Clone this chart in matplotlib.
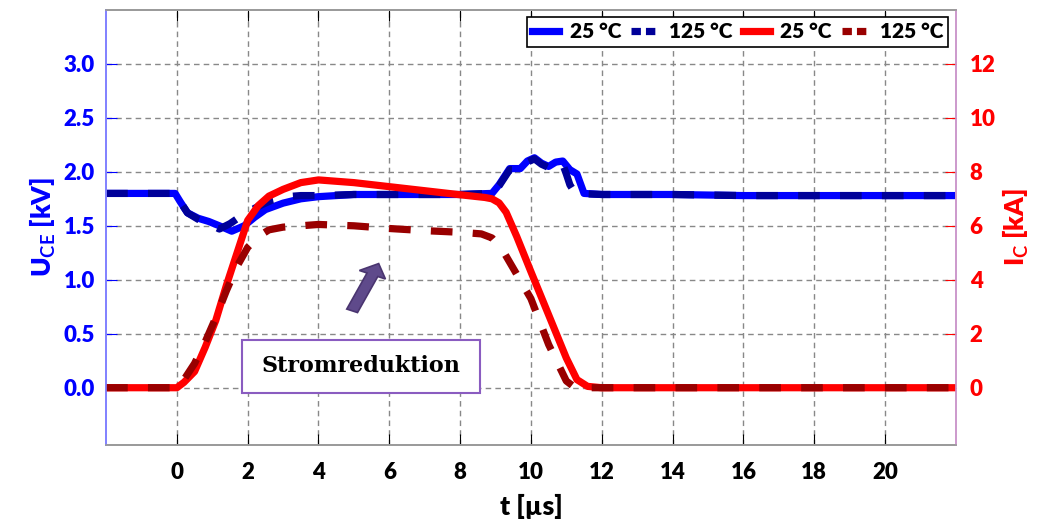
import numpy as np
import matplotlib
matplotlib.use("Agg")
import matplotlib.pyplot as plt
from matplotlib.patches import Rectangle, FancyArrow
from matplotlib.lines import Line2D

plt.rcParams['font.family'] = ['Lato', 'DejaVu Sans']
plt.rcParams['font.weight'] = 'bold'
plt.rcParams['mathtext.fontset'] = 'custom'
plt.rcParams['mathtext.rm'] = 'Lato:bold'
plt.rcParams['mathtext.it'] = 'Lato:bold'

# U_CE [kV] at 25 degC
t_u25 = [-2, -0.05, 0.1, 0.3, 0.6, 0.9, 1.2, 1.55, 1.9, 2.2, 2.5, 3.0, 3.5, 4.0, 5.0, 6.0, 7.0, 8.0,
         8.9, 9.1, 9.4, 9.7, 9.9, 10.1, 10.3, 10.5, 10.7, 10.9, 11.1, 11.3, 11.5, 12, 14, 16, 18, 20, 22]
u_25 = [1.8, 1.8, 1.72, 1.62, 1.57, 1.54, 1.5, 1.45, 1.5, 1.58, 1.65, 1.71, 1.75, 1.77, 1.79, 1.79, 1.79, 1.79,
        1.80, 1.88, 2.03, 2.03, 2.1, 2.13, 2.08, 2.05, 2.09, 2.1, 2.02, 1.98, 1.8, 1.79, 1.79, 1.78, 1.78, 1.78, 1.78]

# U_CE [kV] at 125 degC
t_u125 = [-2, -0.05, 0.1, 0.3, 0.6, 0.9, 1.2, 1.5, 1.9, 2.3, 2.7, 3.1, 3.5, 4.0, 5.0, 6.0, 7.0, 8.0,
          8.9, 9.1, 9.4, 9.7, 9.9, 10.1, 10.3, 10.5, 10.7, 10.9, 11.0, 11.1, 11.25, 12, 14, 16, 18, 20, 22]
u_125 = [1.8, 1.8, 1.72, 1.62, 1.56, 1.52, 1.47, 1.52, 1.61, 1.68, 1.74, 1.77, 1.78, 1.78, 1.79, 1.79, 1.79, 1.79,
         1.80, 1.87, 2.02, 2.02, 2.09, 2.12, 2.07, 2.04, 2.08, 2.07, 1.98, 1.88, 1.80, 1.79, 1.79, 1.78, 1.78, 1.78, 1.78]

# I_C [kA] at 25 degC
t_i25 = [-2, 0, 0.2, 0.5, 0.8, 1.1, 1.4, 1.7, 2.0, 2.3, 2.6, 3.0, 3.5, 4.0, 5, 6, 7, 8, 8.7, 8.9,
         9.1, 9.3, 9.6, 10.0, 10.5, 11.0, 11.3, 11.6, 12, 14, 16, 18, 20, 22]
i_25 = [0, 0, 0.2, 0.6, 1.5, 2.5, 3.8, 5.0, 6.2, 6.75, 7.1, 7.35, 7.6, 7.7, 7.6, 7.45, 7.3, 7.15, 7.05, 7.0,
        6.85, 6.5, 5.6, 4.3, 2.7, 1.1, 0.3, 0.05, 0, 0, 0, 0, 0, 0]

# I_C [kA] at 125 degC
t_i125 = [-2, 0, 0.2, 0.5, 0.8, 1.1, 1.4, 1.7, 2.0, 2.3, 2.6, 3.0, 3.5, 4, 5, 6, 7, 8, 8.6, 8.9,
          9.2, 9.6, 10.0, 10.5, 11.0, 11.2, 11.4, 12, 14, 16, 18, 20, 22]
i_125 = [0, 0, 0.3, 0.9, 1.7, 2.6, 3.6, 4.5, 5.2, 5.6, 5.85, 5.95, 6.0, 6.05, 6.0, 5.9, 5.82, 5.76, 5.7, 5.55,
         5.1, 4.2, 3.3, 1.6, 0.25, 0.05, 0, 0, 0, 0, 0, 0, 0]

fig = plt.figure(figsize=(10.4, 5.21), dpi=100)
ax = fig.add_axes([0.102, 0.146, 0.817, 0.835])
ax2 = ax.twinx()

lw = 5.2
dash = (0, (3.0, 2.8))
ax.plot(t_u25, u_25, color='#0000ff', lw=lw, solid_capstyle='round')
ax.plot(t_u125, u_125, color='#000099', lw=lw, ls=dash)
ax2.plot(t_i25, i_25, color='#ff0000', lw=lw, solid_capstyle='round')
ax2.plot(t_i125, i_125, color='#990000', lw=lw, ls=dash)

ax.set_xlim(-2, 22)
ax.set_ylim(-0.53, 3.5)
ax2.set_ylim(-2.12, 14)
ax.set_xticks(np.arange(0, 21, 2))
ax.set_yticks(np.arange(0, 3.01, 0.5))
ax.set_yticklabels(['%.1f' % v for v in np.arange(0, 3.01, 0.5)])
ax2.set_yticks(np.arange(0, 13, 2))

ax.grid(True, ls=(0, (4, 3)), color='#888888', lw=1)
ax.tick_params(axis='x', direction='in', top=True, length=8, labelsize=16, colors='black', pad=12)
ax.tick_params(axis='y', direction='in', length=8, labelsize=16, colors='#0000ff', pad=8)
ax2.tick_params(axis='y', direction='in', length=8, labelsize=16, colors='#ff0000', pad=10)
for lab in ax.get_xticklabels() + ax.get_yticklabels() + ax2.get_yticklabels():
    lab.set_fontweight('heavy')

ax.set_xlabel('t [µs]', fontsize=19, fontweight='heavy', labelpad=8)
ax.set_ylabel(r'U$_{\rm CE}$ [kV]', fontsize=19, fontweight='heavy', color='#0000ff', labelpad=4)
ax2.set_ylabel(r'I$_{\rm C}$ [kA]', fontsize=19, fontweight='heavy', color='#ff0000', labelpad=4)

for a in (ax, ax2):
    a.spines['top'].set_color('#999999')
    a.spines['bottom'].set_color('#999999')
    a.spines['left'].set_color('#8080ff')
    a.spines['right'].set_color('#cc99cc')
    for s in a.spines.values():
        s.set_linewidth(1.2)

# annotation box and arrow
ax.add_patch(Rectangle((1.83, -0.046), 6.73, 0.49, facecolor='white', edgecolor='#8a5cc0', lw=1.5, zorder=5))
ax.text(5.2, 0.2, 'Stromreduktion', fontsize=16, fontweight='bold', family='DejaVu Serif',
        ha='center', va='center', zorder=6)
ax2.add_patch(FancyArrow(4.95, 2.85, 0.75, 1.75, width=0.33, head_width=0.8, head_length=0.45,
                         length_includes_head=True, facecolor='#5f4a8b', edgecolor='#4a3570', lw=1.2, zorder=6))

# legend proxies
h1 = Line2D([], [], color='#0000ff', lw=lw)
h2 = Line2D([], [], color='#000099', lw=lw, ls=(0, (1.3, 0.7)))
h3 = Line2D([], [], color='#ff0000', lw=lw)
h4 = Line2D([], [], color='#990000', lw=lw, ls=(0, (1.3, 0.7)))
leg = ax2.legend([h1, h2, h3, h4], ['25 °C', '125 °C', '25 °C', '125 °C'], loc='upper right', ncol=4,
                 prop={'weight': 'heavy', 'size': 15}, frameon=True, fancybox=False,
                 handlelength=1.3, handletextpad=0.5, columnspacing=0.5,
                 borderaxespad=0.35, borderpad=0.25)
leg.get_frame().set_edgecolor('black')
leg.get_frame().set_linewidth(1.2)
leg.get_frame().set_alpha(1)

fig.savefig('out.png', dpi=100)
